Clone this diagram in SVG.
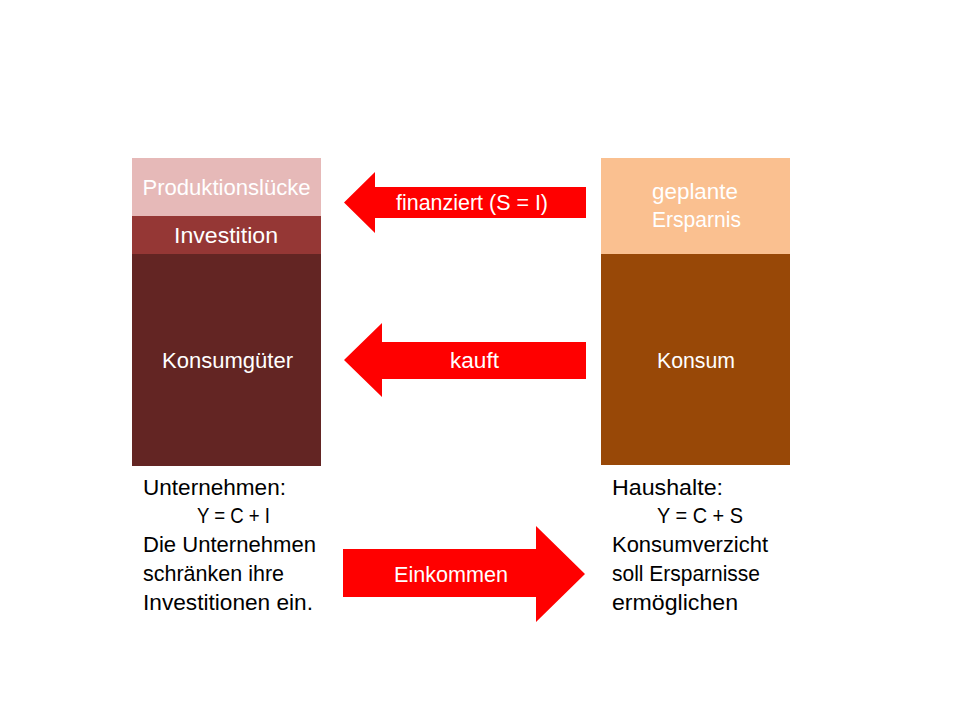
<svg xmlns="http://www.w3.org/2000/svg" width="960" height="720" viewBox="0 0 960 720">
<style>
text{font-family:"Liberation Sans",Arial,sans-serif;font-size:22px}
.w{fill:#FFFFFF}
.c{text-anchor:middle}
.k{fill:#000000}
.arrow{fill:#FF0000}
</style>
<rect x="0" y="0" width="960" height="720" fill="#FFFFFF"/>
<g id="unternehmen">
  <g id="produktionsluecke">
    <rect x="132" y="158" width="189" height="58" fill="#E6B9B8"/>
    <text class="w c" x="226.5" y="195" textLength="168" lengthAdjust="spacingAndGlyphs">Produktionslücke</text>
  </g>
  <g id="investition">
    <rect x="132" y="216" width="189" height="38" fill="#953735"/>
    <text class="w c" x="226" y="243" textLength="104" lengthAdjust="spacingAndGlyphs">Investition</text>
  </g>
  <g id="konsumgueter">
    <rect x="132" y="254" width="189" height="212" fill="#632523"/>
    <text class="w c" x="227.5" y="368" textLength="131" lengthAdjust="spacingAndGlyphs">Konsumgüter</text>
  </g>
  <g id="unternehmen-text">
    <text class="k" x="143" y="495" textLength="143" lengthAdjust="spacingAndGlyphs">Unternehmen:</text>
    <text class="k" x="197" y="523" textLength="73" lengthAdjust="spacingAndGlyphs">Y = C + I</text>
    <text class="k" x="143" y="552" textLength="173" lengthAdjust="spacingAndGlyphs">Die Unternehmen</text>
    <text class="k" x="143" y="581" textLength="141" lengthAdjust="spacingAndGlyphs">schränken ihre</text>
    <text class="k" x="143" y="610" textLength="170" lengthAdjust="spacingAndGlyphs">Investitionen ein.</text>
  </g>
</g>
<g id="haushalte">
  <g id="geplante-ersparnis">
    <rect x="601" y="158" width="189" height="96" fill="#FAC090"/>
    <text class="w c" x="695" y="199" textLength="86" lengthAdjust="spacingAndGlyphs">geplante</text>
    <text class="w c" x="696.5" y="227" textLength="89" lengthAdjust="spacingAndGlyphs">Ersparnis</text>
  </g>
  <g id="konsum">
    <rect x="601" y="254" width="189" height="211" fill="#984807"/>
    <text class="w c" x="696" y="368" textLength="78" lengthAdjust="spacingAndGlyphs">Konsum</text>
  </g>
  <g id="haushalte-text">
    <text class="k" x="612" y="495" textLength="111" lengthAdjust="spacingAndGlyphs">Haushalte:</text>
    <text class="k" x="657" y="523" textLength="86" lengthAdjust="spacingAndGlyphs">Y = C + S</text>
    <text class="k" x="612" y="552" textLength="156" lengthAdjust="spacingAndGlyphs">Konsumverzicht</text>
    <text class="k" x="612" y="581" textLength="148" lengthAdjust="spacingAndGlyphs">soll Ersparnisse</text>
    <text class="k" x="612" y="610" textLength="126" lengthAdjust="spacingAndGlyphs">ermöglichen</text>
  </g>
</g>
<g id="connectors">
  <g id="arrow-finanziert">
    <polygon class="arrow" points="586,187 375,187 375,172 344,202.5 375,233 375,218 586,218"/>
    <text class="w c" x="472" y="210" textLength="152" lengthAdjust="spacingAndGlyphs">finanziert (S = I)</text>
  </g>
  <g id="arrow-kauft">
    <polygon class="arrow" points="586,342 382,342 382,323 344,360 382,397 382,379 586,379"/>
    <text class="w c" x="474.5" y="368" textLength="49" lengthAdjust="spacingAndGlyphs">kauft</text>
  </g>
  <g id="arrow-einkommen">
    <polygon class="arrow" points="343,549 536,549 536,526 585,574 536,622 536,597 343,597"/>
    <text class="w c" x="451" y="582" textLength="114" lengthAdjust="spacingAndGlyphs">Einkommen</text>
  </g>
</g>
</svg>
